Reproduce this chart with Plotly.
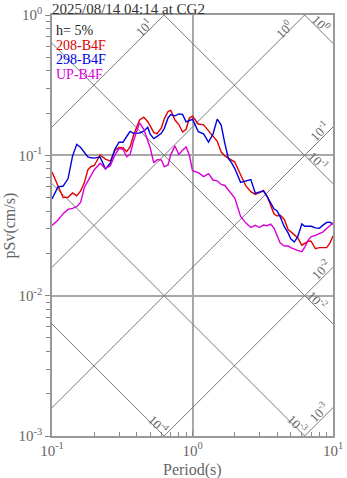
import math
import plotly.graph_objects as go

# Natural periods (s)
periods = [0.10, 0.11, 0.12, 0.13, 0.14, 0.15, 0.16, 0.17, 0.18, 0.19,
           0.20, 0.22, 0.24, 0.26, 0.28, 0.30, 0.32, 0.34, 0.36, 0.38,
           0.40, 0.42, 0.45, 0.48, 0.50, 0.53, 0.56, 0.60, 0.63, 0.67,
           0.70, 0.75, 0.80, 0.85, 0.90, 0.95, 1.0, 1.1, 1.2, 1.3,
           1.4, 1.5, 1.6, 1.7, 1.8, 1.9, 2.0, 2.2, 2.4, 2.6,
           2.8, 3.0, 3.2, 3.4, 3.6, 3.8, 4.0, 4.2, 4.5, 4.8,
           5.0, 5.3, 5.6, 6.0, 6.3, 6.7, 7.0, 7.5, 8.0, 8.5,
           9.0, 9.5, 10.0]

# Pseudo spectral velocity, h = 5% (cm/s)
psv_208 = [0.0760, 0.0602, 0.0501, 0.0502, 0.0540, 0.0514, 0.0557, 0.0639, 0.0788, 0.0833,
           0.0846, 0.1005, 0.0939, 0.0909, 0.1082, 0.1138, 0.1133, 0.1061, 0.1153, 0.1390,
           0.1591, 0.1788, 0.1872, 0.1736, 0.1623, 0.1451, 0.1428, 0.1570, 0.1820, 0.2052,
           0.2089, 0.1785, 0.1658, 0.1468, 0.1535, 0.1844, 0.1900, 0.1671, 0.1650, 0.1497,
           0.1366, 0.1258, 0.1056, 0.0990, 0.0954, 0.0926, 0.0896, 0.0727, 0.0605, 0.0551,
           0.0527, 0.0543, 0.0563, 0.0511, 0.0447, 0.0383, 0.0369, 0.0375, 0.0349, 0.0295,
           0.0286, 0.0273, 0.0259, 0.0229, 0.0236, 0.0245, 0.0244, 0.0216, 0.0220, 0.0219,
           0.0220, 0.0237, 0.0266]

psv_298 = [0.0488, 0.0594, 0.0604, 0.0680, 0.0987, 0.1198, 0.1137, 0.1042, 0.0973, 0.0960,
           0.0955, 0.0974, 0.0801, 0.0877, 0.1104, 0.1240, 0.1238, 0.1362, 0.1483, 0.1435,
           0.1435, 0.1444, 0.1485, 0.1583, 0.1416, 0.1315, 0.1364, 0.1437, 0.1557, 0.1847,
           0.1950, 0.1912, 0.1972, 0.1959, 0.1733, 0.1767, 0.1808, 0.1473, 0.1421, 0.1242,
           0.1418, 0.1810, 0.1644, 0.1212, 0.0950, 0.0883, 0.0805, 0.0642, 0.0660, 0.0672,
           0.0537, 0.0548, 0.0557, 0.0508, 0.0456, 0.0416, 0.0402, 0.0366, 0.0310, 0.0279,
           0.0254, 0.0241, 0.0262, 0.0324, 0.0312, 0.0313, 0.0312, 0.0304, 0.0302, 0.0318,
           0.0332, 0.0334, 0.0323]

psv_up = [0.0316, 0.0345, 0.0384, 0.0412, 0.0419, 0.0430, 0.0463, 0.0590, 0.0655, 0.0713,
          0.0789, 0.0877, 0.0805, 0.0843, 0.1003, 0.1118, 0.1104, 0.0977, 0.1018, 0.1264,
          0.1497, 0.1705, 0.1532, 0.1290, 0.1133, 0.0884, 0.0932, 0.0926, 0.0832, 0.0853,
          0.1008, 0.1167, 0.1013, 0.1089, 0.1146, 0.1007, 0.0778, 0.0753, 0.0706, 0.0741,
          0.0667, 0.0658, 0.0620, 0.0610, 0.0565, 0.0535, 0.0496, 0.0367, 0.0329, 0.0306,
          0.0317, 0.0306, 0.0319, 0.0315, 0.0323, 0.0303, 0.0264, 0.0238, 0.0226, 0.0226,
          0.0220, 0.0214, 0.0210, 0.0206, 0.0222, 0.0251, 0.0264, 0.0269, 0.0276, 0.0285,
          0.0301, 0.0316, 0.0329]

series_names = ["208-B4F", "298-B4F", "UP-B4F"]
series_colors = ["#e00000", "#0000e0", "#d800d8"]
damping_label = "h= 5%"
title_text = "2025/08/14 04:14 at CG2"
x_title = "Period(s)"
y_title = "pSv(cm/s)"

# Tripartite reference lines: displacement (cm) and acceleration levels
disp_levels = [1e-4, 1e-3, 1e-2, 1e-1, 1.0]
acc_levels = [1e-3, 1e-2, 1e-1, 1.0, 10.0]

# Where each level is labelled: (level, period along the line, label shift px)
disp_label_pos = [(1e-4, 0.543, 3), (1e-3, 5.37, 2.5), (1e-2, 7.24, 4.2),
                  (1e-1, 7.40, 4.3), (1.0, 7.70, 4)]
acc_label_pos = [(1e-3, 8.58, 5.3), (1e-2, 8.97, 5.4), (1e-1, 8.63, 5),
                 (1.0, 4.73, 3.4), (10.0, 0.481, 3.9)]

FONT = "Liberation Serif"
GRAY = "#666666"
T_RANGE = [0.1, 10.0]
TWO_PI = 2 * math.pi


def sup(exp):
    return "10<sup>%d</sup>" % exp


fig = go.Figure()

for d in disp_levels:
    fig.add_trace(go.Scatter(x=T_RANGE, y=[TWO_PI * d / t for t in T_RANGE],
                             mode="lines", line=dict(color="#7a7a7a", width=1),
                             hoverinfo="skip", showlegend=False))
for a in acc_levels:
    fig.add_trace(go.Scatter(x=T_RANGE, y=[a * t / TWO_PI for t in T_RANGE],
                             mode="lines", line=dict(color="#7a7a7a", width=1),
                             hoverinfo="skip", showlegend=False))

for name, vals, col in zip(series_names, [psv_208, psv_298, psv_up], series_colors):
    fig.add_trace(go.Scatter(x=periods, y=vals, mode="lines", name=name,
                             line=dict(color=col, width=1.4), showlegend=False))

annotations = []
for d, t, s in disp_label_pos:
    sv = TWO_PI * d / t
    annotations.append(dict(x=math.log10(t), y=math.log10(sv), xref="x", yref="y",
                            text=sup(round(math.log10(d))), showarrow=False,
                            textangle=45, xshift=s, yshift=s,
                            font=dict(family=FONT, size=13, color=GRAY)))
for a, t, s in acc_label_pos:
    sv = a * t / TWO_PI
    annotations.append(dict(x=math.log10(t), y=math.log10(sv), xref="x", yref="y",
                            text=sup(round(math.log10(a))), showarrow=False,
                            textangle=-45, xshift=-s, yshift=s,
                            font=dict(family=FONT, size=13, color=GRAY)))

# Title above the frame, kept inside the page
annotations.append(dict(x=0, y=1, xref="paper", yref="paper", xanchor="left",
                        yanchor="top", xshift=-1, yshift=15, showarrow=False,
                        borderpad=0, text=title_text,
                        font=dict(family=FONT, size=15, color="#333333")))

# Axis titles
annotations.append(dict(x=0.5, y=0, xref="paper", yref="paper", xanchor="center",
                        yanchor="middle", yshift=-34, showarrow=False, text=x_title,
                        font=dict(family=FONT, size=16, color=GRAY)))
annotations.append(dict(x=0, y=0.5, xref="paper", yref="paper", xanchor="center",
                        yanchor="middle", xshift=-43, showarrow=False, text=y_title,
                        textangle=-90, font=dict(family=FONT, size=16, color=GRAY)))

# Legend block in the upper-left corner
legend_lines = [(damping_label, "#222222")] + list(zip(series_names, series_colors))
for i, (txt, col) in enumerate(legend_lines):
    annotations.append(dict(x=0, y=1, xref="paper", yref="paper", xanchor="left",
                            yanchor="middle", xshift=3, yshift=-15.5 - 14.6 * i,
                            showarrow=False, text=txt, borderpad=0,
                            font=dict(family=FONT, size=14, color=col)))

fig.update_layout(
    width=347, height=478,
    margin=dict(l=52, r=14, t=15, b=42),
    paper_bgcolor="white", plot_bgcolor="white",
    font=dict(family=FONT, color=GRAY, size=15),
    annotations=annotations,
    xaxis=dict(type="log", range=[-1, 1], automargin=False,
               tickvals=[0.1, 1, 10], ticktext=[sup(-1), sup(0), sup(1)],
               ticks="inside", ticklen=5, tickcolor="#888888",
               tickfont=dict(family=FONT, size=15, color=GRAY),
               minor=dict(tickvals=[m * 10 ** k for k in range(-1, 1) for m in range(2, 10)],
                          ticks="inside", ticklen=4, tickcolor="#888888", showgrid=False),
               showgrid=True, gridcolor="#a8a8a8", gridwidth=1.5,
               showline=True, mirror=True, linecolor="#999999", linewidth=1.5),
    yaxis=dict(type="log", range=[-3, 0], automargin=False,
               tickvals=[1e-3, 1e-2, 1e-1, 1], ticktext=[sup(-3), sup(-2), sup(-1), sup(0)],
               ticks="outside", ticklen=5, tickcolor="#888888",
               tickfont=dict(family=FONT, size=15, color=GRAY),
               minor=dict(tickvals=[m * 10 ** k for k in range(-3, 0) for m in range(2, 10)],
                          ticks="outside", ticklen=4, tickcolor="#888888", showgrid=False),
               showgrid=True, gridcolor="#a8a8a8", gridwidth=1.5,
               showline=True, mirror=True, linecolor="#999999", linewidth=1.5),
)

fig.write_html("out.html")
